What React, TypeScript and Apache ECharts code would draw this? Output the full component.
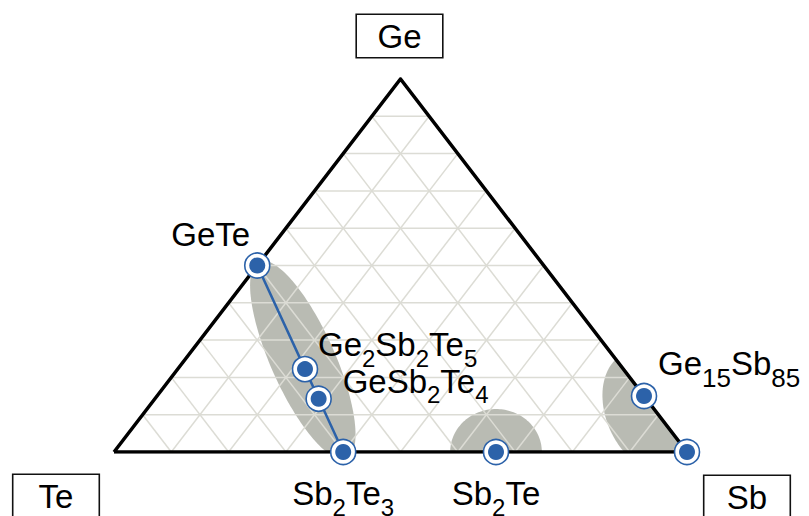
import React, { useEffect, useRef } from 'react';
import * as echarts from 'echarts';

// Vertices of the ternary diagram (Ge / Sb fractions, Te = rest)
const vertexNames = ['Te', 'Sb', 'Ge'];
const vertexGe = [0, 0, 1];
const vertexSb = [0, 1, 0];

// Compounds plotted on the diagram
const compounds = ['GeTe', 'Ge2Sb2Te5', 'GeSb2Te4', 'Sb2Te3', 'Sb2Te', 'Ge15Sb85', 'Sb'];
const geFraction = [1 / 2, 2 / 9, 1 / 7, 0, 0, 0.15, 0];
const sbFraction = [0, 2 / 9, 2 / 7, 2 / 5, 2 / 3, 0.85, 1];

// GeTe–Sb2Te3 pseudo-binary tie line
const tieLine = ['GeTe', 'Ge2Sb2Te5', 'GeSb2Te4', 'Sb2Te3'];

// Grid line levels (fraction of each element)
const gridTicks = [0.1, 0.2, 0.3, 0.4, 0.5, 0.6, 0.7, 0.8, 0.9];

// Shaded phase-change regions: centre composition, semi-axes (fraction of Te–Sb edge), tilt (deg)
const regionGe = [0.247, 0, 0.107];
const regionSb = [0.206, 2 / 3, 0.885];
const regionMajor = [0.188, 0.075, 0.113];
const regionMinor = [0.056, 0.08, 0.079];
const regionTilt = [24, 0, 25];

const FONT = '"Liberation Sans", Arial, Helvetica, sans-serif';
const BLUE = '#2c62a9';

const toXY = (ge: number, sb: number) => [sb + ge / 2, ge];

const labelPlacement: Record<string, { offset: number[]; align: string; sub: number }> = {
  GeTe: { offset: [-86, -48], align: 'left', sub: 24 },
  Ge2Sb2Te5: { offset: [13, -41], align: 'left', sub: 24 },
  GeSb2Te4: { offset: [24, -34], align: 'left', sub: 24 },
  Sb2Te3: { offset: [0, 25], align: 'center', sub: 24 },
  Sb2Te: { offset: [0, 25], align: 'center', sub: 24 },
  Ge15Sb85: { offset: [14, -49], align: 'left', sub: 26 },
};

const vertexLabelOffset: Record<string, number[]> = {
  Te: [-58, 44],
  Sb: [60, 45],
  Ge: [-1, -43],
};

const richName = (name: string) =>
  ('{n|' + name.replace(/(\d+)/g, '}{s|$1}{n|') + '}').replace(/\{n\|\}/g, '');

function clipToPolygon(points: number[][], poly: number[][]) {
  let out = points;
  const n = poly.length;
  for (let i = 0; i < n; i++) {
    const A = poly[i];
    const B = poly[(i + 1) % n];
    const C = poly[(i + 2) % n];
    const side = (p: number[]) => (B[0] - A[0]) * (p[1] - A[1]) - (B[1] - A[1]) * (p[0] - A[0]);
    const ref = Math.sign(side(C));
    const inside = (p: number[]) => side(p) * ref >= 0;
    const input = out;
    out = [];
    for (let k = 0; k < input.length; k++) {
      const P = input[k];
      const Q = input[(k + 1) % input.length];
      const pin = inside(P);
      const qin = inside(Q);
      if (pin) out.push(P);
      if (pin !== qin) {
        const sp = side(P);
        const sq = side(Q);
        const t = sp / (sp - sq);
        out.push([P[0] + t * (Q[0] - P[0]), P[1] + t * (Q[1] - P[1])]);
      }
    }
    if (!out.length) break;
  }
  return out;
}

export default function App() {
  const ref = useRef<HTMLDivElement>(null);

  useEffect(() => {
    if (!ref.current) return;
    const chart = echarts.init(ref.current, undefined, { renderer: 'svg' });

    const vertexXY = vertexNames.map((_, i) => toXY(vertexGe[i], vertexSb[i]));
    const outline = [...vertexXY, vertexXY[0]];

    const gridSegments: number[][] = [];
    gridTicks.forEach((f) => {
      gridSegments.push([...toXY(f, 0), ...toXY(f, 1 - f)]);
      gridSegments.push([...toXY(0, f), ...toXY(1 - f, f)]);
      gridSegments.push([...toXY(0, 1 - f), ...toXY(1 - f, 0)]);
    });

    const compoundXY = compounds.map((_, i) => toXY(geFraction[i], sbFraction[i]));
    const tieXY = tieLine.map((n) => compoundXY[compounds.indexOf(n)]);
    const regionXY = regionGe.map((g, i) => toXY(g, regionSb[i]));

    const option: any = {
      animation: false,
      backgroundColor: '#ffffff',
      grid: { left: 114, right: 122, top: 79, bottom: 64 },
      xAxis: { type: 'value', min: 0, max: 1, show: false },
      yAxis: { type: 'value', min: 0, max: 1, show: false },
      series: [
        {
          type: 'custom',
          z: 1,
          silent: true,
          data: regionXY,
          renderItem: (params: any, api: any) => {
            const i = params.dataIndex;
            const c = api.coord([api.value(0), api.value(1)]);
            const unit = api.size([1, 0])[0];
            const a = regionMajor[i] * unit;
            const b = regionMinor[i] * unit;
            const th = (regionTilt[i] * Math.PI) / 180;
            const s = Math.sin(th);
            const co = Math.cos(th);
            const pts: number[][] = [];
            const N = 160;
            for (let k = 0; k < N; k++) {
              const t = (2 * Math.PI * k) / N;
              const ca = Math.cos(t);
              const sa = Math.sin(t);
              pts.push([c[0] + a * ca * s + b * sa * co, c[1] + a * ca * co - b * sa * s]);
            }
            const tri = vertexXY.map((v) => api.coord(v));
            const clipped = clipToPolygon(pts, tri);
            return {
              type: 'polygon',
              shape: { points: clipped },
              style: { fill: '#b9bbb3' },
            };
          },
        },
        {
          type: 'custom',
          z: 2,
          silent: true,
          data: gridSegments,
          renderItem: (params: any, api: any) => {
            const p1 = api.coord([api.value(0), api.value(1)]);
            const p2 = api.coord([api.value(2), api.value(3)]);
            return {
              type: 'line',
              shape: { x1: p1[0], y1: p1[1], x2: p2[0], y2: p2[1] },
              style: { stroke: '#dcdcd5', lineWidth: 1.5 },
            };
          },
        },
        {
          type: 'line',
          z: 3,
          silent: true,
          data: outline,
          symbol: 'none',
          lineStyle: { color: '#000000', width: 3.5, join: 'miter', opacity: 1 },
        },
        {
          type: 'line',
          z: 4,
          silent: true,
          data: tieXY,
          symbol: 'none',
          lineStyle: { color: BLUE, width: 2.5, opacity: 1 },
        },
        {
          type: 'scatter',
          z: 5,
          silent: true,
          data: compoundXY,
          symbol: 'circle',
          symbolSize: 25,
          itemStyle: { color: '#ffffff', borderColor: BLUE, borderWidth: 1.6, opacity: 1 },
        },
        {
          type: 'scatter',
          z: 6,
          silent: true,
          symbol: 'circle',
          symbolSize: 16,
          itemStyle: { color: BLUE, opacity: 1 },
          data: compounds.map((name, i) => {
            const pl = labelPlacement[name];
            return {
              name,
              value: compoundXY[i],
              label: pl
                ? {
                    show: true,
                    position: 'inside',
                    align: pl.align,
                    verticalAlign: 'top',
                    offset: pl.offset,
                    formatter: richName(name),
                    rich: {
                      n: {
                        fontFamily: FONT,
                        fontSize: 33,
                        lineHeight: 33,
                        color: '#000000',
                        verticalAlign: 'top',
                      },
                      s: {
                        fontFamily: FONT,
                        fontSize: pl.sub,
                        lineHeight: pl.sub,
                        color: '#000000',
                        verticalAlign: 'top',
                        padding: [18, 0, 0, 0],
                      },
                    },
                  }
                : { show: false },
            };
          }),
        },
        {
          type: 'scatter',
          z: 7,
          silent: true,
          symbol: 'circle',
          symbolSize: 0.1,
          itemStyle: { color: 'rgba(0,0,0,0)', opacity: 1 },
          data: vertexNames.map((name, i) => ({
            name,
            value: vertexXY[i],
            label: {
              show: true,
              position: 'inside',
              offset: vertexLabelOffset[name],
              formatter: name,
              fontFamily: FONT,
              fontSize: 33,
              color: '#000000',
              opacity: 1,
              width: 85,
              height: 42,
              lineHeight: 42,
              align: 'center',
              verticalAlign: 'middle',
              borderColor: '#111111',
              borderWidth: 1.6,
              backgroundColor: '#ffffff',
            },
          })),
        },
      ],
    };

    chart.setOption(option);
    return () => chart.dispose();
  }, []);

  return (
    <div
      ref={ref}
      style={{ position: 'fixed', left: 0, top: 0, width: 809, height: 516, background: '#fff' }}
    />
  );
}
